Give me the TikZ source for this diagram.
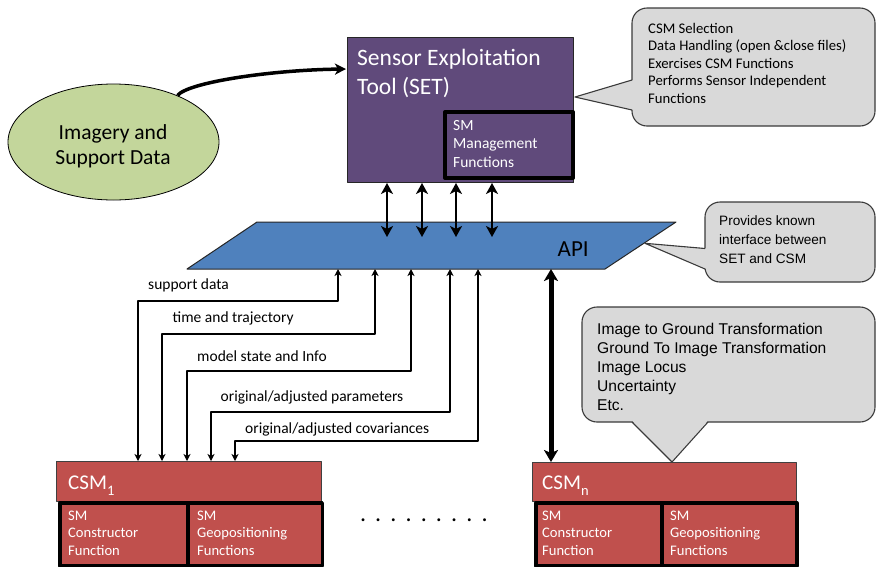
\documentclass[tikz,border=0pt]{standalone}
\usepackage{fontspec}
\setmainfont{Carlito}
\newfontfamily\arialf{Liberation Sans}
\usetikzlibrary{arrows.meta,calc,shapes.geometric}
\definecolor{setpurple}{HTML}{604A7B}
\definecolor{apiblue}{HTML}{4F81BD}
\definecolor{csmred}{HTML}{C0504D}
\definecolor{imggreen}{HTML}{C3D69B}
\definecolor{callgray}{HTML}{D9D9D9}
\definecolor{callborder}{HTML}{3A3A3A}
\tikzset{
  txt/.style={anchor=base west, inner sep=0pt, align=left},
  wtxt/.style={txt, text=white},
  lbl/.style={txt, font=\fontsize{15.5}{18}\selectfont},
  callbox/.style={fill=callgray, draw=callborder, line width=1.1pt, rounded corners=15pt},
  callptr/.style={draw=callborder, line width=1.1pt},
  sig/.style={line width=1.5pt, {Stealth[length=7pt,width=7pt,inset=2pt]}-{Stealth[length=7pt,width=7pt,inset=2pt]}},
  dbl/.style={line width=2.5pt, {Stealth[length=11pt,width=12pt,inset=3pt]}-{Stealth[length=11pt,width=12pt,inset=3pt]}},
  fat/.style={line width=5pt, {Stealth[length=12pt,width=14pt,inset=3pt]}-{Stealth[length=12pt,width=14pt,inset=3pt]}},
  hdr/.style={fill=csmred, draw=black!75, line width=1pt, anchor=north west, inner sep=0pt},
  subbox/.style={fill=csmred, draw=black, line width=3.5pt, anchor=north west, inner sep=0pt},
  subtxt/.style={wtxt, font=\fontsize{14.6}{17.2}\selectfont},
}
\begin{document}
\begin{tikzpicture}[x=1pt,y=-1pt,line join=round]
\useasboundingbox (0,0) rectangle (876,566);

% ---------- callout 1 (SET functions)
\draw[callbox] (632,8) rectangle (875,126);
\fill[callgray] (633.5,80) -- (575,97) -- (633.5,110) -- cycle;
\draw[callptr] (632,80) -- (575,97) -- (632,110);
\node[txt, font=\fontsize{14.7}{17.5}\selectfont] (c1t) at (648,103.3)
  {CSM Selection\\Data Handling (open \&close files)\\Exercises CSM Functions\\Performs Sensor Independent\\Functions};

% ---------- imagery ellipse
\node[ellipse, draw=black, fill=imggreen, line width=0.8pt, minimum width=211pt, minimum height=116pt, inner sep=0pt] (img) at (113.5,142) {};
\node[anchor=base, align=center, inner sep=0pt, font=\fontsize{21.5}{25}\selectfont] (imgt) at (113,164) {Imagery and\\Support Data};

% ---------- SET box
\node[draw=black!85, fill=setpurple, line width=1pt, minimum width=226pt, minimum height=145pt, anchor=north west, inner sep=0pt] (set) at (347,37) {};
\node[wtxt, font=\fontsize{23.5}{29.5}\selectfont] (sett) at (357,94.5) {Sensor Exploitation\\Tool (SET)};
\node[draw=black, fill=setpurple, line width=4pt, minimum width=128pt, minimum height=66pt, anchor=north west, inner sep=0pt] (smm) at (443,110) {};
\node[wtxt, font=\fontsize{15.5}{18.7}\selectfont] (smmt) at (453,167.4) {SM\\Management\\Functions};

\coordinate (setin) at (346,69);
\draw[line width=3.5pt, -{Stealth[length=11pt,width=11pt,inset=3pt]}] (img.36) .. controls +(10,-13) and (270,70) .. (setin);

% ---------- API
\coordinate (apiTL) at (257,222);
\coordinate (apiTR) at (676,222);
\coordinate (apiBR) at (605,269);
\coordinate (apiBL) at (187,269);
\draw[fill=apiblue, draw=black!85, line width=1pt] (apiTL) -- (apiTR) -- (apiBR) -- (apiBL) -- cycle;
\node[txt, font=\fontsize{23}{27}\selectfont] (apit) at (557.5,256.7) {API};

% SET <-> API
\foreach \x [count=\i] in {387,422,456,492}{
  \coordinate (u\i) at (\x,237);
  \draw[dbl] (set.south -| u\i) -- (u\i);
}

% ---------- callout 3 (API)
\draw[callbox] (705,202) rectangle (875,282);
\fill[callgray] (706.5,248.5) -- (645,243.3) -- (706.5,269) -- cycle;
\draw[callptr] (705,248.5) -- (645,243.3) -- (705,269);
\node[txt, font=\arialf\fontsize{13.6}{19.2}\selectfont] (c3t) at (719,263.4)
  {Provides known\\interface between\\SET and CSM};

% ---------- CSM 1
\node[hdr, minimum width=265pt, minimum height=40pt] (csm1) at (56,461) {};
\node[subbox, minimum width=128pt, minimum height=63pt] (csm1a) at (58,501) {};
\node[subbox, minimum width=134.5pt, minimum height=63pt] (csm1b) at (186,501) {};
\node[wtxt, font=\fontsize{21}{25}\selectfont] (csm1t) at (68,489.3) {CSM\raisebox{-5.7pt}{\fontsize{14.5}{15}\selectfont 1}};
\node[subtxt] (csm1at) at (68,555.1) {SM\\Constructor\\Function};
\node[subtxt] (csm1bt) at (197,555.1) {SM\\Geopositioning\\Functions};

% ---------- CSM n
\node[hdr, minimum width=264pt, minimum height=39pt] (csmn) at (532,462) {};
\node[subbox, minimum width=126pt, minimum height=63pt] (csmna) at (534,501) {};
\node[subbox, minimum width=135pt, minimum height=63pt] (csmnb) at (660,501) {};
\node[wtxt, font=\fontsize{21}{25}\selectfont] (csmnt) at (542,489.3) {CSM\raisebox{-5.7pt}{\fontsize{14.5}{15}\selectfont n}};
\node[subtxt] (csmnat) at (542,555.1) {SM\\Constructor\\Function};
\node[subtxt] (csmnbt) at (670,555.1) {SM\\Geopositioning\\Functions};

% dots
\node[txt, font=\fontsize{24}{26}\selectfont] (dots) at (359.8,521)
  {.\hspace{9.15pt}.\hspace{9.15pt}.\hspace{9.15pt}.\hspace{9.15pt}.\hspace{9.15pt}.\hspace{9.15pt}.\hspace{9.15pt}.\hspace{9.15pt}.};

% ---------- data connectors API <-> CSM1
\foreach \xa/\yb/\xc [count=\i] in {338/301/138, 375/334/162, 411/371/187, 450/412/211, 478/441/235}{
  \coordinate (a\i) at (\xa,269);
  \coordinate (b\i) at (\xc,\yb);
  \draw[sig] (a\i) |- (b\i) -- (b\i |- csm1.north);
}
\node[lbl] (l1) at (148,289) {support data};
\node[lbl] (l2) at (172.5,322) {time and trajectory};
\node[lbl] (l3) at (197,361) {model state and Info};
\node[lbl] (l4) at (220.5,401.5) {original/adjusted parameters};
\node[lbl] (l5) at (245,433.5) {original/adjusted covariances};

% thick API <-> CSMn
\coordinate (a6) at (551,269);
\draw[fat] (a6) -- (a6 |- csmn.north);

% ---------- callout 2 (CSM functions)
\draw[callbox] (582,307) rectangle (875,422);
\fill[callgray] (632,420.5) -- (672,462) -- (708,420.5) -- cycle;
\draw[callptr] (632,422) -- (672,462) -- (708,422);
\node[txt, font=\arialf\fontsize{15.6}{19.1}\selectfont] (c2t) at (597,410.7)
  {Image to Ground Transformation\\Ground To Image Transformation\\Image Locus\\Uncertainty\\Etc.};
\end{tikzpicture}
\end{document}
